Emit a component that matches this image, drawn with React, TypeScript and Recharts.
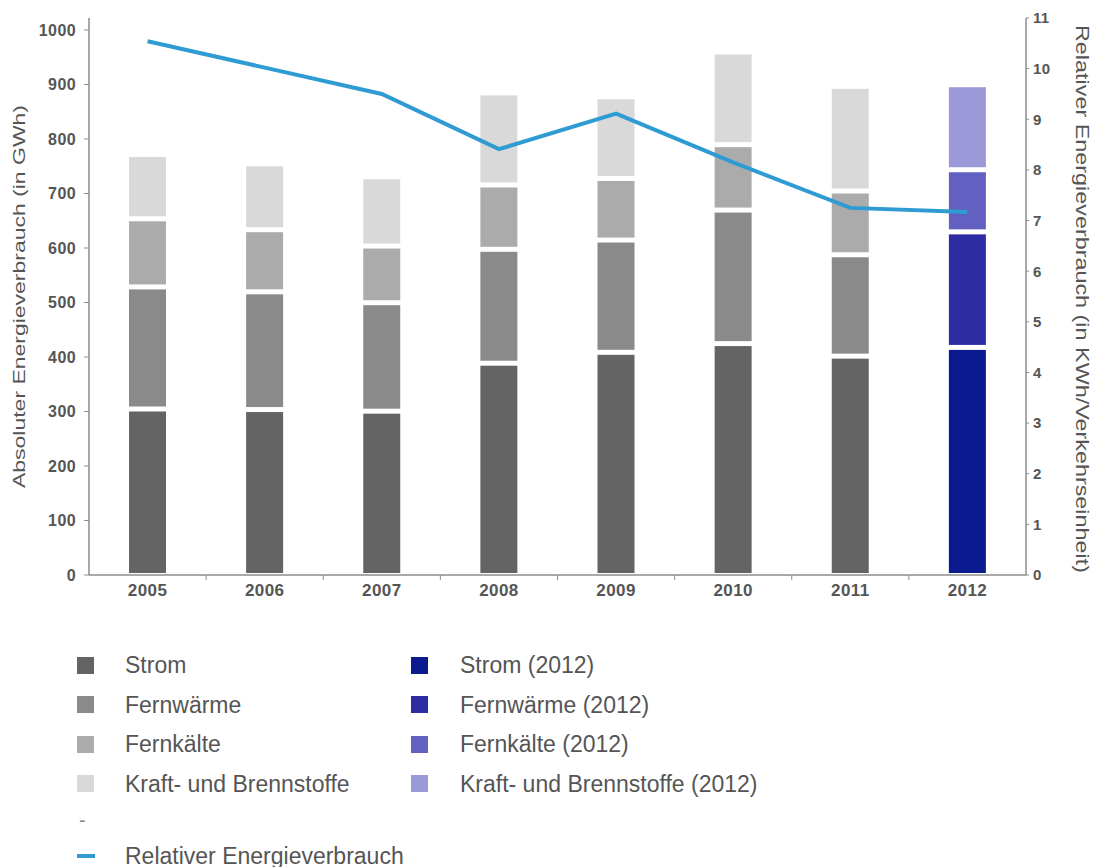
import { Bar, ComposedChart, Line, XAxis, YAxis } from 'recharts';

const YEARS = ['2005', '2006', '2007', '2008', '2009', '2010', '2011', '2012'];
const STROM = [300, 299, 296, 384, 404, 420, 397, 413];
const FERNWAERME = [224, 216, 199, 209, 206, 245, 186, 212];
const FERNKAELTE = [125, 114, 104, 118, 113, 120, 117, 114];
const KRAFT = [118, 121, 127, 169, 150, 170, 192, 156];
const RELATIV = [10.54, 10.02, 9.5, 8.41, 9.11, 8.15, 7.25, 7.17];

const LEFT_TICKS = [0, 100, 200, 300, 400, 500, 600, 700, 800, 900, 1000];
const RIGHT_TICKS = [0, 1, 2, 3, 4, 5, 6, 7, 8, 9, 10, 11];

const SERIES = [
  { key: 'strom', name: 'Strom', gray: '#646464', blue: '#0b1a8e', gap: 2 },
  { key: 'fernwaerme', name: 'Fernwärme', gray: '#8a8a8a', blue: '#2d2ca3', gap: 5 },
  { key: 'fernkaelte', name: 'Fernkälte', gray: '#ababab', blue: '#6261c2', gap: 5 },
  { key: 'kraft', name: 'Kraft- und Brennstoffe', gray: '#d9d9d9', blue: '#9b99d8', gap: 5 },
];

const LEFT_TITLE = 'Absoluter Energieverbrauch (in GWh)';
const RIGHT_TITLE = 'Relativer Energieverbrauch (in KWh/Verkehrseinheit)';
const LINE_NAME = 'Relativer Energieverbrauch';

const LINE_COLOR = '#2f9bd3';
const TEXT = '#555555';
const AXIS = '#8c8c8c';
const FONT = '"Liberation Sans", Arial, sans-serif';

const data = YEARS.map((year, i) => ({
  year,
  strom: STROM[i],
  fernwaerme: FERNWAERME[i],
  fernkaelte: FERNKAELTE[i],
  kraft: KRAFT[i],
  rel: RELATIV[i],
}));

const W = 1094;
const H = 620;
const M = { top: 18, right: 18, bottom: 15, left: 29 };
const LEFT_W = 60;
const RIGHT_W = 50;
const PLOT_W = W - M.left - M.right - LEFT_W - RIGHT_W;
const STEP = PLOT_W / YEARS.length;

function segment(color: string, blue: string, gap: number) {
  return (props: any) => {
    const { x, y, width, height, index } = props;
    const h = Math.max(0, height - gap);
    return <rect x={x} y={y} width={width} height={h} fill={index === YEARS.length - 1 ? blue : color} />;
  };
}

function YearTick(props: any) {
  const { x, y, payload, index } = props;
  return (
    <g>
      {index > 0 && <line x1={x - STEP / 2} x2={x - STEP / 2} y1={y} y2={y + 5} stroke={AXIS} />}
      <text
        x={x}
        y={y + 21}
        textAnchor="middle"
        fill={TEXT}
        fontSize={17}
        fontWeight="bold"
        letterSpacing={0.4}
        fontFamily={FONT}
      >
        {payload.value}
      </text>
    </g>
  );
}

const leftTick = { fill: TEXT, fontSize: 16, fontWeight: 'bold' as const, fontFamily: FONT, letterSpacing: 0.4 };
const rightTick = { fill: TEXT, fontSize: 15, fontWeight: 'bold' as const, fontFamily: FONT, letterSpacing: 0.3 };

const ROW_Y = [665, 704.5, 744, 783.5];
const legendText = { position: 'absolute' as const, fontSize: 23, color: TEXT, lineHeight: '26px', whiteSpace: 'nowrap' as const };

export default function App() {
  return (
    <div style={{ position: 'absolute', left: 0, top: 0, width: W, height: 867, background: '#fff', fontFamily: FONT }}>
      <ComposedChart width={W} height={H} data={data} margin={M}>
        <XAxis
          dataKey="year"
          tickLine={false}
          tickSize={0}
          tickMargin={0}
          tick={<YearTick />}
          axisLine={{ stroke: AXIS, strokeWidth: 1.5 }}
          height={30}
        />
        <YAxis
          yAxisId="left"
          domain={[0, 1022]}
          ticks={LEFT_TICKS}
          width={LEFT_W}
          tickSize={5}
          tickMargin={8}
          tick={leftTick}
          tickLine={{ stroke: AXIS }}
          axisLine={{ stroke: AXIS, strokeWidth: 1.5 }}
        />
        <YAxis
          yAxisId="right"
          orientation="right"
          domain={[0, 11]}
          ticks={RIGHT_TICKS}
          width={RIGHT_W}
          tickSize={3}
          tickMargin={4}
          tick={rightTick}
          tickLine={{ stroke: AXIS }}
          axisLine={{ stroke: AXIS, strokeWidth: 1.5 }}
        />
        {SERIES.map((s) => (
          <Bar
            key={s.key}
            yAxisId="left"
            dataKey={s.key}
            stackId="a"
            barSize={37}
            fill={s.gray}
            shape={segment(s.gray, s.blue, s.gap)}
            isAnimationActive={false}
          />
        ))}
        <Line
          yAxisId="right"
          dataKey="rel"
          type="linear"
          stroke={LINE_COLOR}
          strokeWidth={4}
          dot={false}
          activeDot={false}
          isAnimationActive={false}
        />
      </ComposedChart>

      <svg width={W} height={H} style={{ position: 'absolute', left: 0, top: 0, pointerEvents: 'none' }}>
        <text
          transform="translate(25 296.5) rotate(-90)"
          textAnchor="middle"
          fill={TEXT}
          fontSize={16}
          fontFamily={FONT}
          textLength={383}
          lengthAdjust="spacingAndGlyphs"
        >
          {LEFT_TITLE}
        </text>
        <text
          transform="translate(1076 299) rotate(90)"
          textAnchor="middle"
          fill={TEXT}
          fontSize={18}
          fontFamily={FONT}
          textLength={548}
          lengthAdjust="spacingAndGlyphs"
        >
          {RIGHT_TITLE}
        </text>
      </svg>

      {SERIES.map((s, i) => (
        <div key={s.key}>
          <div style={{ position: 'absolute', left: 77, top: ROW_Y[i] - 8.5, width: 17, height: 17, background: s.gray }} />
          <div style={{ ...legendText, left: 125, top: ROW_Y[i] - 13 }}>{s.name}</div>
          <div style={{ position: 'absolute', left: 411, top: ROW_Y[i] - 8.5, width: 17, height: 17, background: s.blue }} />
          <div style={{ ...legendText, left: 460, top: ROW_Y[i] - 13 }}>{s.name} (2012)</div>
        </div>
      ))}
      <div style={{ ...legendText, left: 79, top: 807, fontSize: 20, color: '#888' }}>-</div>
      <div style={{ position: 'absolute', left: 77, top: 854, width: 18, height: 4, background: LINE_COLOR }} />
      <div style={{ ...legendText, left: 125, top: 843 }}>{LINE_NAME}</div>
    </div>
  );
}
